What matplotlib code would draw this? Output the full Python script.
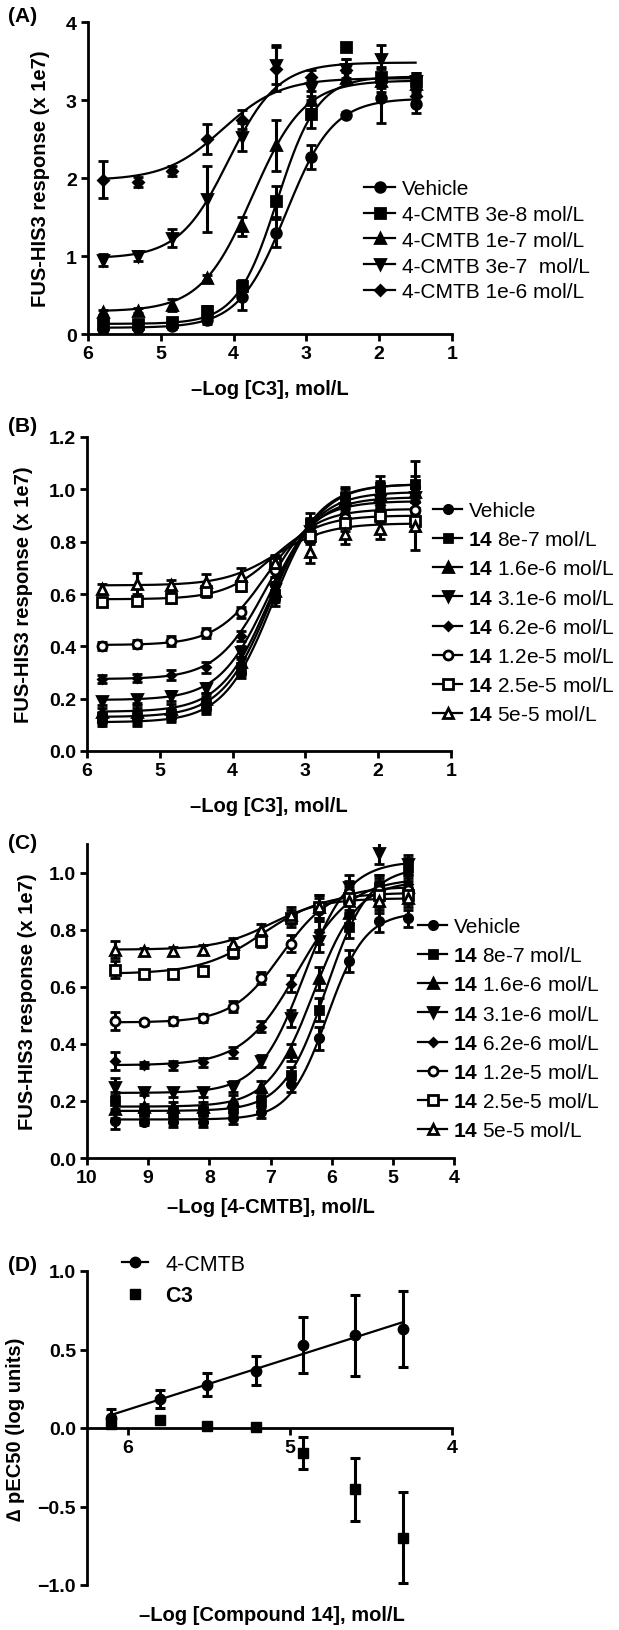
import numpy as np
import matplotlib
matplotlib.use("Agg")
import matplotlib.pyplot as plt
from matplotlib.lines import Line2D

plt.rcParams["font.family"] = ["Liberation Sans", "DejaVu Sans"]
plt.rcParams["mathtext.fontset"] = "custom"
plt.rcParams["mathtext.rm"] = "Liberation Sans"
plt.rcParams["mathtext.bf"] = "Liberation Sans:bold"

# ---------------- data ----------------
# Panel A: -log[C3] with 4-CMTB
x_a = [5.8, 5.32, 4.85, 4.37, 3.89, 3.42, 2.94, 2.46, 1.98, 1.5]
labels_a = ["Vehicle", "4-CMTB 3e-8 mol/L", "4-CMTB 1e-7 mol/L",
            "4-CMTB 3e-7  mol/L", "4-CMTB 1e-6 mol/L"]
a_vehicle = [0.06, 0.08, 0.10, 0.18, 0.48, 1.30, 2.27, 2.81, 3.02, 2.95]
a_cmtb_3e8 = [0.13, 0.13, 0.15, 0.30, 0.62, 1.70, 2.82, 3.68, 3.30, 3.25]
a_cmtb_1e7 = [0.28, 0.30, 0.37, 0.72, 1.38, 2.42, 3.00, 3.28, 3.25, 3.20]
a_cmtb_3e7 = [0.95, 1.00, 1.23, 1.73, 2.52, 3.45, 3.15, 3.40, 3.52, 3.25]
a_cmtb_1e6 = [1.98, 1.95, 2.09, 2.50, 2.75, 3.40, 3.30, 3.38, 3.25, 3.05]
a_err_vehicle = [0.02, 0.02, 0.03, 0.05, 0.17, 0.18, 0.15, 0.03, 0.32, 0.12]
a_err_3e8 = [0.03, 0.03, 0.03, 0.06, 0.07, 0.20, 0.18, 0.05, 0.12, 0.10]
a_err_1e7 = [0.03, 0.03, 0.08, 0.04, 0.12, 0.33, 0.12, 0.08, 0.15, 0.10]
a_err_3e7 = [0.08, 0.07, 0.12, 0.42, 0.18, 0.25, 0.10, 0.12, 0.18, 0.10]
a_err_1e6 = [0.24, 0.06, 0.06, 0.19, 0.12, 0.28, 0.08, 0.15, 0.10, 0.08]
# fitted curve parameters: bottom, top, midpoint (-log), hill
a_fit = [(0.08, 3.02, 3.28, 1.34), (0.13, 3.30, 3.40, 1.56),
         (0.29, 3.25, 3.74, 1.23), (0.97, 3.48, 4.07, 1.28),
         (1.97, 3.28, 4.15, 1.10)]

# Panel B: -log[C3] with compound 14
x_b = [5.8, 5.32, 4.85, 4.37, 3.89, 3.42, 2.94, 2.46, 1.98, 1.5]
labels_14 = ["Vehicle", r"$\bf{14}$ 8e-7 mol/L", r"$\bf{14}$ 1.6e-6 mol/L",
             r"$\bf{14}$ 3.1e-6 mol/L", r"$\bf{14}$ 6.2e-6 mol/L",
             r"$\bf{14}$ 1.2e-5 mol/L", r"$\bf{14}$ 2.5e-5 mol/L",
             r"$\bf{14}$ 5e-5 mol/L"]
b_vehicle = [0.11, 0.12, 0.13, 0.16, 0.30, 0.58, 0.86, 0.97, 1.00, 1.01]
b_8e7 = [0.13, 0.135, 0.14, 0.18, 0.32, 0.60, 0.87, 0.97, 1.01, 1.02]
b_16e6 = [0.15, 0.15, 0.16, 0.20, 0.34, 0.61, 0.85, 0.96, 0.98, 0.99]
b_31e6 = [0.19, 0.20, 0.21, 0.24, 0.38, 0.62, 0.84, 0.93, 0.96, 0.97]
b_62e6 = [0.275, 0.28, 0.29, 0.32, 0.44, 0.64, 0.83, 0.91, 0.94, 0.95]
b_12e5 = [0.40, 0.41, 0.42, 0.45, 0.53, 0.69, 0.83, 0.89, 0.91, 0.92]
b_25e5 = [0.57, 0.575, 0.585, 0.61, 0.63, 0.72, 0.82, 0.87, 0.90, 0.88]
b_5e5 = [0.62, 0.64, 0.635, 0.645, 0.67, 0.72, 0.76, 0.83, 0.85, 0.86]
b_err = [0.015, 0.015, 0.02, 0.02, 0.02, 0.025, 0.03, 0.03, 0.03, 0.04]
b_err_wide = [0.02, 0.04, 0.02, 0.03, 0.03, 0.03, 0.04, 0.04, 0.04, 0.09]
b_fit = [(0.11, 1.02, 3.45, 1.3), (0.13, 1.02, 3.47, 1.3),
         (0.15, 0.99, 3.50, 1.3), (0.195, 0.97, 3.52, 1.3),
         (0.275, 0.955, 3.55, 1.3), (0.405, 0.925, 3.55, 1.3),
         (0.58, 0.90, 3.45, 1.3), (0.633, 0.87, 3.40, 1.2)]

# Panel C: -log[4-CMTB] with compound 14
x_c = [9.54, 9.07, 8.59, 8.11, 7.62, 7.15, 6.67, 6.20, 5.72, 5.23, 4.75]
c_vehicle = [0.13, 0.125, 0.125, 0.125, 0.14, 0.16, 0.26, 0.42, 0.69, 0.83, 0.84]
c_8e7 = [0.20, 0.16, 0.16, 0.165, 0.175, 0.20, 0.29, 0.52, 0.81, 0.95, 1.02]
c_16e6 = [0.17, 0.18, 0.18, 0.18, 0.20, 0.25, 0.37, 0.63, 0.86, 0.93, 0.95]
c_31e6 = [0.25, 0.23, 0.23, 0.23, 0.25, 0.34, 0.49, 0.76, 0.95, 1.07, 1.03]
c_62e6 = [0.34, 0.325, 0.325, 0.335, 0.37, 0.46, 0.61, 0.79, 0.90, 0.95, 0.96]
c_12e5 = [0.48, 0.475, 0.48, 0.49, 0.53, 0.63, 0.75, 0.87, 0.93, 0.94, 0.94]
c_25e5 = [0.66, 0.645, 0.645, 0.655, 0.72, 0.76, 0.84, 0.88, 0.91, 0.92, 0.92]
c_5e5 = [0.73, 0.725, 0.725, 0.73, 0.75, 0.80, 0.85, 0.88, 0.90, 0.90, 0.91]
c_err = [0.03, 0.01, 0.015, 0.015, 0.02, 0.02, 0.03, 0.04, 0.04, 0.04, 0.03]
c_fit = [(0.135, 0.86, 6.07, 1.40), (0.165, 1.02, 6.09, 1.25),
         (0.18, 0.97, 6.30, 1.20), (0.228, 1.04, 6.46, 1.18),
         (0.325, 0.98, 6.56, 0.98), (0.475, 0.95, 6.82, 1.08),
         (0.645, 0.93, 7.12, 0.86), (0.73, 0.91, 7.00, 1.00)]

# Panel D: shift of pEC50 vs -log[compound 14]
x_d = [6.10, 5.80, 5.51, 5.21, 4.92, 4.60, 4.30]
d_cmtb = [0.064, 0.185, 0.277, 0.366, 0.53, 0.59, 0.63]
d_cmtb_err = [0.06, 0.055, 0.075, 0.09, 0.18, 0.26, 0.24]
d_c3 = [0.028, 0.053, 0.015, 0.004, -0.16, -0.39, -0.70]
d_c3_err = [0.02, 0.02, 0.015, 0.01, 0.10, 0.20, 0.29]

# ---------------- styling ----------------
mk_a = ["o", "s", "^", "v", "D"]
mk_14 = ["o", "s", "^", "v", "D", "o", "s", "^"]
fill_14 = ["k", "k", "k", "k", "k", "w", "w", "w"]
ms_14 = [6, 6, 6.5, 6.5, 4.5, 6.5, 6.5, 6.5]

LW = 1.6
TICK_FS = 14
LAB_FS = 14.5
LEG_FS = 15


def hill(x, bottom, top, mid, n):
    return bottom + (top - bottom) / (1 + 10 ** (n * (x - mid)))


def style_axes(ax):
    for s in ["top", "right"]:
        ax.spines[s].set_visible(False)
    for s in ["left", "bottom"]:
        ax.spines[s].set_linewidth(2.0)
    ax.tick_params(width=2.0, length=5, labelsize=TICK_FS, pad=3)
    for t in ax.get_xticklabels() + ax.get_yticklabels():
        t.set_fontweight("bold")


def draw_series(ax, x, y, err, fit, mk, mfc, ms):
    xs = np.linspace(min(x), max(x), 300)
    ax.plot(xs, hill(xs, *fit), color="k", lw=LW, zorder=2)
    ax.errorbar(x, y, yerr=err, fmt=mk, color="k", mfc=mfc, mec="k",
                mew=2.0, ms=ms, ecolor="k", elinewidth=2.2, capsize=3.5,
                capthick=2.2, zorder=3)


def add_legend(ax, fig, labels, markers, fills, sizes, x0, y0, spacing, hl):
    handles = [Line2D([], [], color="k", lw=LW, marker=m, mfc=f, mec="k",
                      mew=2.0, ms=s) for m, f, s in zip(markers, fills, sizes)]
    ax.legend(handles, labels, loc="upper left", bbox_to_anchor=(x0, y0),
              bbox_transform=fig.transFigure, frameon=False, borderpad=0,
              borderaxespad=0, handlelength=hl, handletextpad=0.3,
              labelspacing=spacing, fontsize=LEG_FS)


W, H = 619, 1631
fig = plt.figure(figsize=(W / 100, H / 100), dpi=100)


def box(x0, x1, ytop, ybot):
    return [x0 / W, 1 - ybot / H, (x1 - x0) / W, (ybot - ytop) / H]


# ---------------- panel A ----------------
ax = fig.add_axes(box(88, 452, 23, 335))
series_a = [a_vehicle, a_cmtb_3e8, a_cmtb_1e7, a_cmtb_3e7, a_cmtb_1e6]
errs_a = [a_err_vehicle, a_err_3e8, a_err_1e7, a_err_3e7, a_err_1e6]
sizes_a = [7, 7, 7.5, 7.5, 5.5]
for y, e, f, m, s in zip(series_a, errs_a, a_fit, mk_a, sizes_a):
    draw_series(ax, x_a, y, e, f, m, "k", s)
ax.set_xlim(6, 1)
ax.set_ylim(0, 4)
ax.set_xticks([6, 5, 4, 3, 2, 1])
ax.set_yticks([0, 1, 2, 3, 4])
ax.set_xlabel("\u2013Log [C3], mol/L", fontsize=LAB_FS, fontweight="bold")
ax.set_ylabel("FUS-HIS3 response (x 1e7)", fontsize=LAB_FS, fontweight="bold")
ax.xaxis.set_label_coords(0.5, -0.145)
ax.yaxis.set_label_coords(-0.105, 0.5)
style_axes(ax)
add_legend(ax, fig, labels_a, mk_a, ["k"] * 5, sizes_a, 364 / W,
           1 - 180 / H, 0.33, 1.5)
fig.text(8 / W, 1 - 16 / H, "(A)", fontsize=15, fontweight="bold", va="center")

# ---------------- panel B ----------------
ax = fig.add_axes(box(87, 451, 438, 752))
series_b = [b_vehicle, b_8e7, b_16e6, b_31e6, b_62e6, b_12e5, b_25e5, b_5e5]
errs_b = [b_err, b_err_wide, b_err, b_err, b_err, b_err, b_err, b_err_wide]
for y, e, f, m, c, s in zip(series_b, errs_b, b_fit, mk_14, fill_14, ms_14):
    draw_series(ax, x_b, y, e, f, m, c, s)
ax.set_xlim(6, 1)
ax.set_ylim(0, 1.2)
ax.set_xticks([6, 5, 4, 3, 2, 1])
ax.set_yticks([0, 0.2, 0.4, 0.6, 0.8, 1.0, 1.2])
ax.set_yticklabels(["0.0", "0.2", "0.4", "0.6", "0.8", "1.0", "1.2"])
ax.set_xlabel("\u2013Log [C3], mol/L", fontsize=LAB_FS, fontweight="bold")
ax.set_ylabel("FUS-HIS3 response (x 1e7)", fontsize=LAB_FS, fontweight="bold")
ax.xaxis.set_label_coords(0.5, -0.143)
ax.yaxis.set_label_coords(-0.148, 0.5)
style_axes(ax)
add_legend(ax, fig, labels_14, mk_14, fill_14, ms_14, 433 / W,
           1 - 502 / H, 0.49, 1.4)
fig.text(8 / W, 1 - 426 / H, "(B)", fontsize=15, fontweight="bold", va="center")

# ---------------- panel C ----------------
ax = fig.add_axes(box(87, 454, 845, 1159))
series_c = [c_vehicle, c_8e7, c_16e6, c_31e6, c_62e6, c_12e5, c_25e5, c_5e5]
for y, f, m, c, s in zip(series_c, c_fit, mk_14, fill_14, ms_14):
    draw_series(ax, x_c, y, c_err, f, m, c, s)
ax.set_xlim(10, 4)
ax.set_ylim(0, 1.1)
ax.set_xticks([10, 9, 8, 7, 6, 5, 4])
ax.set_yticks([0, 0.2, 0.4, 0.6, 0.8, 1.0])
ax.set_yticklabels(["0.0", "0.2", "0.4", "0.6", "0.8", "1.0"])
ax.set_xlabel("\u2013Log [4-CMTB], mol/L", fontsize=LAB_FS, fontweight="bold")
ax.set_ylabel("FUS-HIS3 response (x 1e7)", fontsize=LAB_FS, fontweight="bold")
ax.xaxis.set_label_coords(0.5, -0.124)
ax.yaxis.set_label_coords(-0.137, 0.5)
style_axes(ax)
add_legend(ax, fig, labels_14, mk_14, fill_14, ms_14, 418 / W,
           1 - 918 / H, 0.49, 1.4)
fig.text(8 / W, 1 - 844 / H, "(C)", fontsize=15, fontweight="bold", va="center")

# ---------------- panel D ----------------
ax = fig.add_axes(box(87, 452, 1272, 1586))
slope, icpt = np.polyfit(x_d, d_cmtb, 1)
xs = np.array([max(x_d), min(x_d)])
ax.plot(xs, slope * xs + icpt, color="k", lw=LW, zorder=2)
ax.errorbar(x_d, d_cmtb, yerr=d_cmtb_err, fmt="o", color="k", ms=7.5,
            elinewidth=2.2, capsize=3.5, capthick=2.2, zorder=3)
ax.errorbar(x_d, d_c3, yerr=d_c3_err, fmt="s", color="k", ms=7.5,
            elinewidth=2.2, capsize=3.5, capthick=2.2, zorder=3)
ax.set_xlim(6.25, 4)
ax.set_ylim(-1.0, 1.0)
ax.set_xticks([6, 5, 4])
ax.set_yticks([-1.0, -0.5, 0.0, 0.5, 1.0])
ax.set_yticklabels(["\u22121.0", "\u22120.5", "0.0", "0.5", "1.0"])
ax.spines["bottom"].set_position(("data", 0))
ax.set_ylabel("\u2206 pEC50 (log units)", fontsize=LAB_FS, fontweight="bold")
ax.yaxis.set_label_coords(-0.17, 0.5)
style_axes(ax)
fig.text(272 / W, 1 - 1616 / H, "\u2013Log [Compound 14], mol/L",
         fontsize=LAB_FS, fontweight="bold", ha="center", va="center")
hd = [Line2D([], [], color="k", lw=LW, marker="o", ms=7.5),
      Line2D([], [], color="k", lw=0, marker="s", ms=7.5)]
ax.legend(hd, ["4-CMTB", r"$\bf{C3}$"], loc="upper left",
          bbox_to_anchor=(122 / W, 1 - 1255 / H), bbox_transform=fig.transFigure,
          frameon=False, borderpad=0, borderaxespad=0, handlelength=1.2,
          handletextpad=0.8, labelspacing=0.47, fontsize=15.5)
fig.text(8 / W, 1 - 1266 / H, "(D)", fontsize=15, fontweight="bold", va="center")

fig.savefig("out.png", dpi=100)
